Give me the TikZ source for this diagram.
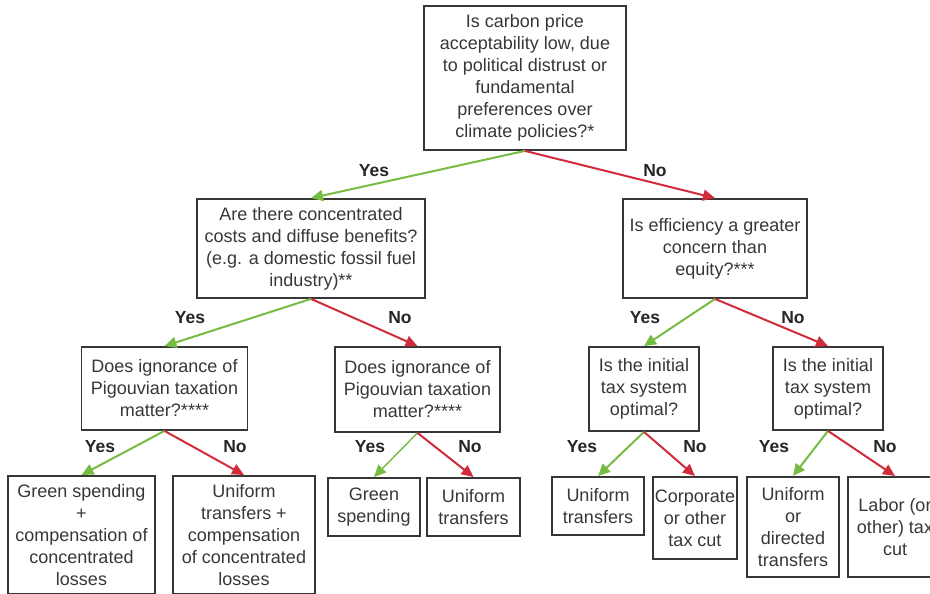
\documentclass[tikz,border=0pt]{standalone}
\usepackage{fontspec}
\setmainfont{Liberation Sans}
\usetikzlibrary{arrows.meta}
\definecolor{yesgreen}{RGB}{118,188,66}
\definecolor{nored}{RGB}{208,44,58}
\definecolor{boxgray}{RGB}{55,55,55}
\begin{document}
\begin{tikzpicture}[x=1pt, y=-1pt,
    question/.style={draw=boxgray, line width=1.8pt, text=boxgray, align=center,
        inner sep=0pt, font=\fontsize{18}{22}\selectfont},
    answer/.style={question, anchor=north},
    lbl/.style={font=\fontsize{17.5}{20}\selectfont\bfseries, text=black!85},
    yesarrow/.style={draw=yesgreen, line width=2pt, -{Triangle[length=12pt,width=11pt]}},
    noarrow/.style={draw=nored, line width=2pt, -{Triangle[length=12pt,width=11pt]}}]
    % Frame
    \useasboundingbox (0,0) rectangle (930,594);
    \clip (0,0) rectangle (930,594);

    % Questions
    \node[question, minimum width=202, minimum height=144] (accept) at (525,78)
        {Is carbon price\\acceptability low, due\\to political distrust or\\fundamental\\preferences over\\climate policies?*};
    \node[question, minimum width=228, minimum height=99] (costs) at (311,248.5)
        {Are there concentrated\\costs and diffuse benefits?\\(e.g. a domestic fossil fuel\\industry)**};
    \node[question, minimum width=184, minimum height=99] (effic) at (715,248.5)
        {Is efficiency a greater\\concern than\\equity?***};
    \node[question, minimum width=166, minimum height=83] (pigouA) at (164.5,388.5)
        {Does ignorance of\\Pigouvian taxation\\matter?****};
    \node[question, minimum width=165, minimum height=85] (pigouB) at (417.5,389.5)
        {Does ignorance of\\Pigouvian taxation\\matter?****};
    \node[question, minimum width=110, minimum height=84] (taxA) at (644,389)
        {Is the initial\\tax system\\optimal?};
    \node[question, minimum width=110, minimum height=83] (taxB) at (828,388.5)
        {Is the initial\\tax system\\optimal?};

    % Outcomes
    \node[answer, minimum width=147, minimum height=118] (greencomp) at (81.5,475)
        {Green spending\\+\\compensation of\\concentrated\\losses};
    \node[answer, minimum width=142, minimum height=118] (unifcomp) at (244,475)
        {Uniform\\transfers +\\compensation\\of concentrated\\losses};
    \node[answer, minimum width=92, minimum height=58] (green) at (374,477)
        {Green\\spending};
    \node[answer, minimum width=93, minimum height=58] (unifA) at (473.5,477)
        {Uniform\\transfers};
    \node[answer, minimum width=92, minimum height=58] (unifB) at (598,476)
        {Uniform\\transfers};
    \node[answer, minimum width=84, minimum height=82] (corp) at (695,476)
        {Corporate\\or other\\tax cut};
    \node[answer, minimum width=92, minimum height=100] (directed) at (793,476)
        {Uniform\\or\\directed\\transfers};
    \node[answer, minimum width=94, minimum height=100] (labor) at (895,476)
        {Labor (or\\other) tax\\cut};

    % Connectors
    \draw[yesarrow] (accept.south) -- (costs.north);
    \draw[noarrow] (accept.south) -- (effic.north);
    \draw[yesarrow] (costs.south) -- (pigouA.north);
    \draw[noarrow] (costs.south) -- (pigouB.north);
    \draw[yesarrow] (effic.south) -- (taxA.north);
    \draw[noarrow] (effic.south) -- (taxB.north);
    \draw[yesarrow] (pigouA.south) -- (greencomp.north);
    \draw[noarrow] (pigouA.south) -- (unifcomp.north);
    \draw[yesarrow, line width=1.4pt] (pigouB.south) -- (green.north);
    \draw[noarrow] (pigouB.south) -- (unifA.north);
    \draw[yesarrow] (taxA.south) -- (unifB.north);
    \draw[noarrow] (taxA.south) -- (corp.north);
    \draw[yesarrow] (taxB.south) -- (directed.north);
    \draw[noarrow] (taxB.south) -- (labor.north);

    % Labels
    \node[lbl] (yes0) at (374,171) {Yes};
    \node[lbl] (no0) at (655,171) {No};
    \node[lbl] (yes1) at (190,318) {Yes};
    \node[lbl] (no1) at (400,318) {No};
    \node[lbl] (yes2) at (645,318) {Yes};
    \node[lbl] (no2) at (793,318) {No};
    \node[lbl] (yes3) at (100,447) {Yes};
    \node[lbl] (no3) at (235,447) {No};
    \node[lbl] (yes4) at (370,447) {Yes};
    \node[lbl] (no4) at (470,447) {No};
    \node[lbl] (yes5) at (582,447) {Yes};
    \node[lbl] (no5) at (695,447) {No};
    \node[lbl] (yes6) at (774,447) {Yes};
    \node[lbl] (no6) at (885,447) {No};
\end{tikzpicture}
\end{document}
